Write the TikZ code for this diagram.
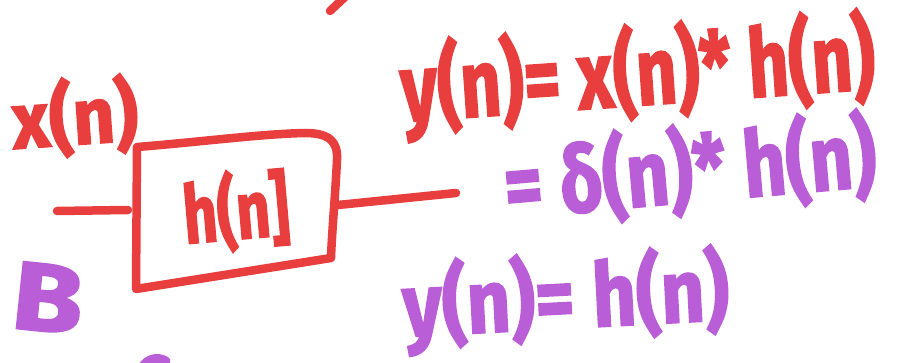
\documentclass[tikz,border=0pt]{standalone}
\usepackage{fontspec}
\setmainfont{Fira Sans}
\newfontfamily\marker{Fira Sans}[BoldFeatures={FakeBold=2}]
\definecolor{mred}{RGB}{232,62,62}
\definecolor{mpurple}{RGB}{186,94,216}
\newcommand{\tall}[3]{\scalebox{#1}[#2]{#3}}
\begin{document}
\begin{tikzpicture}[x=1pt,y=-1pt,
  redink/.style={draw=mred,line width=8.5pt,line cap=round,line join=round},
  purpleink/.style={draw=mpurple,line width=9pt,line cap=round,line join=round},
  redtext/.style={text=mred,font=\marker\bfseries\fontsize{66}{66}\selectfont,inner sep=0pt},
  purpletext/.style={text=mpurple,font=\marker\bfseries\fontsize{66}{66}\selectfont,inner sep=0pt},
  blocklabel/.style={text=mred,font=\marker\bfseries\fontsize{56}{56}\selectfont,inner sep=0pt}]
\useasboundingbox[fill=white] (0,0) rectangle (905,363);

% fragments at the edges
\draw[redink] (346,-4) -- (330,11);
\draw[purpleink] (143,366) .. controls (148,359) and (157,356) .. (166,361);

% block
\node[blocklabel,rotate=5] (hbox) at (236,211) {\tall{1.05}{1.45}{h(n]}};
\coordinate (tl) at (137,147);
\coordinate (tr) at (337,160);
\coordinate (br) at (331,258);
\coordinate (bl) at (136,289);
\coordinate (inend) at (128,210);
\coordinate (outstart) at (338,205);
\draw[redink] (tl) .. controls (200,142) and (260,134) .. (305,133)
  .. controls (330,133) and (338,142) .. (tr)
  .. controls (335,200) and (332,230) .. (br) -- (bl) -- cycle;

% signals
\coordinate (xin) at (57,211);
\coordinate (yout) at (456,193);
\node[redtext,rotate=4] (xlabel) at (75,117) {\tall{1.1}{1.2}{x(n)}};
\draw[redink] (xin) -- (inend);
\draw[redink] (outstart) -- (yout);

% equations
\node[redtext,rotate=4] (eq1) at (638,75) {\tall{1.07}{1.45}{y(n)= x(n)* h(n)}};
\node[purpletext,rotate=5] (eq2) at (690,170) {\tall{1.12}{1.4}{= δ(n)* h(n)}};
\node[purpletext,rotate=3] (eq3) at (566,300) {\tall{1.15}{1.35}{y(n)= h(n)}};
\node[purpletext,font=\marker\bfseries\fontsize{88}{88}\selectfont,rotate=-6] (blabel) at (48,298) {\tall{1.3}{1.1}{B}};
\end{tikzpicture}
\end{document}
